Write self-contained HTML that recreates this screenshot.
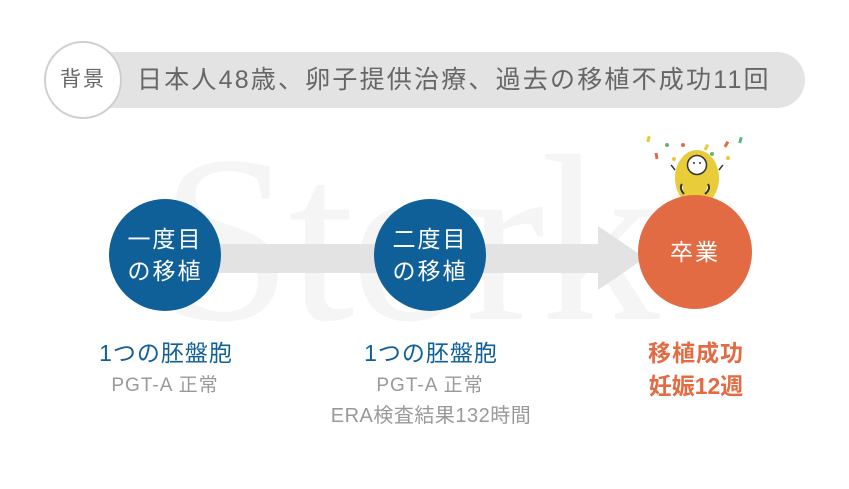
<!DOCTYPE html>
<html><head><meta charset="utf-8"><style>
body{margin:0;width:849px;height:489px;background:#fff;position:relative;overflow:hidden;font-family:"Liberation Sans","Noto Sans CJK JP",sans-serif}
.a{position:absolute}
.bar{left:100px;top:52px;width:705px;height:56px;background:#e3e3e3;border-radius:0 28px 28px 0}
.bg{left:44px;top:41px;width:74px;height:74px;border:2px solid #cfcfcf;border-radius:50%;background:#fff;color:#666;font-size:21px;line-height:74px;text-align:center;letter-spacing:2px}
.t{left:137px;top:62px;font-size:25px;color:#666;letter-spacing:2.2px;white-space:nowrap;line-height:36px}
.wm{left:160px;top:90px;font-family:"Liberation Serif",serif;font-size:238px;color:#f5f5f5;line-height:300px;letter-spacing:-4px}
.c{border-radius:50%;color:#fff;text-align:center;display:flex;align-items:center;justify-content:center;font-size:23px;line-height:32px;letter-spacing:2px}
.lb{text-align:center;white-space:nowrap;width:240px}
</style></head><body>
<div class="a bar"></div>
<div class="a bg">背景</div>
<div class="a t">日本人48歳、卵子提供治療、過去の移植不成功11回</div>
<div class="a wm">Stork</div>
<svg class="a" style="left:0;top:0" width="849" height="489">
<rect x="215" y="244" width="385" height="29" fill="#e3e3e3"/>
<polygon points="598,226 645,258 598,290" fill="#e3e3e3"/>
<g>
<rect x="647" y="136" width="3" height="6" fill="#e8c93a" transform="rotate(15 648 139)"/>
<circle cx="667" cy="145" r="2" fill="#5cb874"/>
<circle cx="683" cy="145" r="2" fill="#e36b43"/>
<rect x="655" y="153" width="3" height="6" fill="#e36b43" transform="rotate(-10 656 156)"/>
<circle cx="674" cy="159" r="2" fill="#e8c93a"/>
<rect x="705" y="144" width="3" height="6" fill="#e8c93a" transform="rotate(30 706 147)"/>
<rect x="725" y="141" width="3" height="6" fill="#e36b43" transform="rotate(30 726 144)"/>
<rect x="739" y="137" width="3" height="6" fill="#5cb874" transform="rotate(15 740 140)"/>
<circle cx="712" cy="154" r="2" fill="#5cb874"/>
<circle cx="728" cy="158" r="2" fill="#e8c93a"/>
</g>
<ellipse cx="697" cy="178" rx="22" ry="28" fill="#e8cc3a"/>
<circle cx="697" cy="165" r="9.5" fill="#fff" stroke="#333" stroke-width="1.5"/>
<circle cx="694" cy="163" r="1" fill="#333"/><circle cx="700" cy="163" r="1" fill="#333"/>
<path d="M675 170 q-3 -4 -4 -5 M719 170 q3 -4 4 -5" stroke="#333" stroke-width="1.5" fill="none"/>
<circle cx="695" cy="252" r="57" fill="#e36b43"/>
<path d="M684 194 q-5 -6 -2 -10 M705 194 q6 -5 3 -10" stroke="#333" stroke-width="2" fill="#fff"/>
</svg>
<div class="a c" style="left:109px;top:199px;width:112px;height:112px;background:#0f5f98">一度目<br>の移植</div>
<div class="a c" style="left:374px;top:199px;width:112px;height:112px;background:#0f5f98">二度目<br>の移植</div>
<div class="a c" style="left:638px;top:195px;width:114px;height:114px;color:#fff">卒業</div>
<div class="a lb" style="left:46px;top:337px;font-size:23px;color:#0f5f98;line-height:32px;letter-spacing:1px">1つの胚盤胞</div>
<div class="a lb" style="left:45px;top:372px;font-size:19px;color:#999;line-height:28px;letter-spacing:1px">PGT-A 正常</div>
<div class="a lb" style="left:311px;top:337px;font-size:23px;color:#0f5f98;line-height:32px;letter-spacing:1px">1つの胚盤胞</div>
<div class="a lb" style="left:310px;top:372px;font-size:19px;color:#999;line-height:28px;letter-spacing:1px">PGT-A 正常</div>
<div class="a lb" style="left:311px;top:402px;font-size:20px;color:#999;line-height:28px;letter-spacing:0.5px">ERA検査結果132時間</div>
<div class="a lb" style="left:576px;top:337px;font-size:23px;color:#e36b43;line-height:32px;letter-spacing:1px;font-weight:bold">移植成功</div>
<div class="a lb" style="left:576px;top:370px;font-size:23px;color:#e36b43;line-height:32px;letter-spacing:0px;font-weight:bold">妊娠12週</div>
</body></html>
